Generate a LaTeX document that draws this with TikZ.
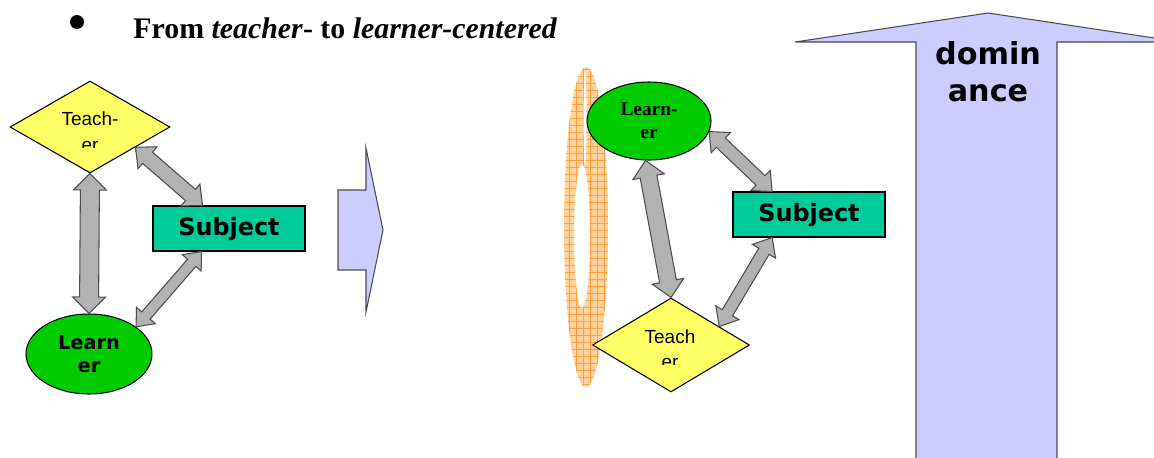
\documentclass[tikz,border=0pt]{standalone}
\usepackage{fontspec}
\setmainfont{Liberation Serif}
\newfontfamily\arialf{Liberation Sans}
\newfontfamily\verdf{DejaVu Sans}
\usetikzlibrary{shapes.geometric,calc}
\definecolor{yellowc}{HTML}{FFFF66}
\definecolor{greenc}{HTML}{00CC00}
\definecolor{tealc}{HTML}{00CC99}
\definecolor{lavc}{HTML}{CCCCFF}
\definecolor{grayc}{HTML}{B2B2B2}
\definecolor{grayline}{HTML}{4D4D4D}
\definecolor{orangel}{HTML}{FFD39B}
\definecolor{oranged}{HTML}{FFA040}
\tikzset{
  outl/.style={draw=black, line width=0.6pt},
  grayarrow/.style={fill=grayc, draw=grayline, line width=0.6pt, line join=miter},
  lavarrow/.style={fill=lavc, draw=black!70, line width=0.6pt},
  teachbox/.style={diamond, outl, fill=yellowc, inner sep=0pt, aspect=1.7},
  learnbox/.style={ellipse, outl, fill=greenc, inner sep=0pt},
  subjbox/.style={rectangle, outl, fill=tealc, inner sep=0pt, minimum width=3.04cm, minimum height=0.9cm,
     font=\verdf\bfseries\fontsize{13.6pt}{15pt}\selectfont},
  teachtxt/.style={font=\arialf\fontsize{10.8pt}{13pt}\selectfont, inner sep=0pt},
  gridline/.style={draw=oranged, line width=0.5pt},
}
\newcommand\dblarr[5]{%
  \coordinate (hA) at ($(#1)!#5!(#2)$);
  \coordinate (hB) at ($(#2)!#5!(#1)$);
  \draw[grayarrow] (#1) -- ($(hA)!#4!90:(#2)$) -- ($(hA)!#3!90:(#2)$) -- ($(hB)!#3!-90:(#1)$)
    -- ($(hB)!#4!-90:(#1)$) -- (#2) -- ($(hB)!#4!90:(#1)$) -- ($(hB)!#3!90:(#1)$)
    -- ($(hA)!#3!-90:(#2)$) -- ($(hA)!#4!-90:(#2)$) -- cycle;}
\begin{document}
\begin{tikzpicture}[x=0.02cm, y=-0.02cm]
\useasboundingbox (0,0) rectangle (1154,457);
\clip (0,0) rectangle (1154,457);

% title
\node[circle, fill=black, inner sep=0pt, minimum size=0.28cm] (bullet) at (77,22) {};
\node[anchor=base west, inner sep=0pt, font=\bfseries\fontsize{17pt}{20pt}\selectfont] (title) at (133,38)
  {From \textit{teacher}- to \textit{learner-centered}};

% ---------- left diagram ----------
\node[teachbox, minimum width=3.2cm, minimum height=1.84cm] (T1) at (90,127) {};
\node[teachtxt] (T1a) at (90,119) {Teach-};
\begin{scope}
  \clip (0,0) rectangle (300,147);
  \node[teachtxt, anchor=base] (T1b) at (90,151) {er};
\end{scope}
\node[subjbox] (S1) at (229,228.5) {Subject};
\node[learnbox, minimum width=2.52cm, minimum height=1.6cm, align=center,
      font=\verdf\bfseries\fontsize{11pt}{13pt}\selectfont] (L1) at (89,354) {Learn\\er};

\dblarr{T1.south}{L1.north}{0.19cm}{0.33cm}{0.33cm}
\dblarr{T1.-24}{S1.139}{0.15cm}{0.29cm}{0.32cm}
\dblarr{S1.220}{L1.30}{0.11cm}{0.25cm}{0.3cm}

% ---------- middle arrow ----------
\draw[lavarrow] (338,190) -- (366,190) -- (366,148) -- (383,230) -- (366,312) -- (366,270) -- (338,270) -- cycle;

% ---------- right diagram: hatched ring ----------
\begin{scope}[even odd rule]
  \clip (586,227) ellipse (22 and 160)
        (582,236) ellipse (8 and 72)
        (585,118) ellipse (1.6 and 48);
  \fill[orangel] (560,60) rectangle (612,392);
  \foreach \gx in {562,569,...,612} { \draw[gridline] (\gx,60) -- (\gx,392); }
  \foreach \gy in {62,69,...,392} { \draw[gridline] (560,\gy) -- (612,\gy); }
\end{scope}

\node[learnbox, minimum width=2.48cm, minimum height=1.56cm, align=center,
      font=\bfseries\fontsize{11pt}{13pt}\selectfont] (L2) at (649,121) {Learn-\\er};
\node[subjbox] (S2) at (809,214.5) {Subject};
\node[teachbox, minimum width=3.14cm, minimum height=1.88cm] (T2) at (671,345) {};
\node[teachtxt] (T2a) at (670,337) {Teach};
\begin{scope}
  \clip (550,300) rectangle (800,364);
  \node[teachtxt, anchor=base] (T2b) at (670,368) {er};
\end{scope}

\dblarr{L2.265}{T2.north}{0.17cm}{0.32cm}{0.33cm}
\dblarr{L2.-10}{S2.148}{0.13cm}{0.28cm}{0.32cm}
\dblarr{S2.212}{T2.21}{0.12cm}{0.27cm}{0.32cm}

% ---------- dominance arrow ----------
\draw[lavarrow] (916,470) -- (916,42) -- (795,42) -- (988,13) -- (1181,42) -- (1057,42) -- (1057,470) -- cycle;
\node[align=center, font=\verdf\bfseries\fontsize{17.2pt}{21pt}\selectfont, inner sep=0pt] (dom) at (988,72) {domin\\ance};
\end{tikzpicture}
\end{document}
